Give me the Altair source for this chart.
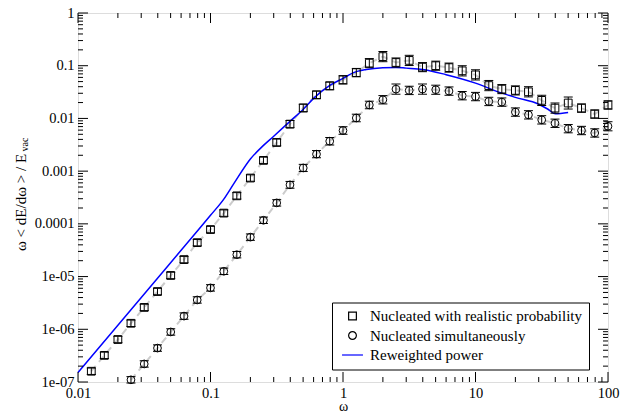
import altair as alt
import pandas as pd

# ---------------- data ----------------
omega = [0.0126, 0.0158, 0.02, 0.0251, 0.0316, 0.0398, 0.0501, 0.0631, 0.0794, 0.1,
         0.126, 0.158, 0.2, 0.251, 0.316, 0.398, 0.501, 0.631, 0.794, 1.0,
         1.26, 1.58, 2.0, 2.51, 3.16, 3.98, 5.01, 6.31, 7.94, 10.0,
         12.6, 15.8, 20.0, 25.1, 31.6, 39.8, 50.1, 63.1, 79.4, 100.0]

real_y = [1.6e-7, 3.2e-7, 6.4e-7, 1.3e-6, 2.6e-6, 5.2e-6, 1.05e-5, 2.1e-5, 4.4e-5, 7.8e-5,
          1.6e-4, 3.4e-4, 7.4e-4, 1.6e-3, 3.5e-3, 7.8e-3, 0.0158, 0.028, 0.0415, 0.054,
          0.074, 0.112, 0.149, 0.115, 0.126, 0.094, 0.10, 0.092, 0.08, 0.067,
          0.042, 0.036, 0.034, 0.032, 0.022, 0.0157, 0.0196, 0.0157, 0.0121, 0.018]
real_err = [0.15, 0.15, 0.15, 0.15, 0.15, 0.15, 0.15, 0.15, 0.15, 0.15,
            0.15, 0.15, 0.15, 0.15, 0.16, 0.17, 0.18, 0.18, 0.18, 0.20,
            0.20, 0.22, 0.25, 0.22, 0.25, 0.22, 0.22, 0.22, 0.25, 0.25,
            0.25, 0.22, 0.22, 0.25, 0.25, 0.25, 0.30, 0.20, 0.20, 0.20]

sim_omega = [0.0251, 0.0316, 0.0398, 0.0501, 0.0631, 0.0794, 0.1,
             0.126, 0.158, 0.2, 0.251, 0.316, 0.398, 0.501, 0.631, 0.794, 1.0,
             1.26, 1.58, 2.0, 2.51, 3.16, 3.98, 5.01, 6.31, 7.94, 10.0,
             12.6, 15.8, 20.0, 25.1, 31.6, 39.8, 50.1, 63.1, 79.4, 100.0]
sim_y = [1.1e-7, 2.2e-7, 4.4e-7, 8.9e-7, 1.78e-6, 3.6e-6, 6.1e-6,
         1.26e-5, 2.6e-5, 5.6e-5, 1.17e-4, 2.5e-4, 5.5e-4, 1.15e-3, 2.1e-3, 3.7e-3, 5.9e-3,
         0.0102, 0.018, 0.0226, 0.036, 0.034, 0.036, 0.035, 0.033, 0.027, 0.026,
         0.021, 0.0204, 0.0132, 0.0117, 0.0094, 0.0081, 0.0064, 0.0059, 0.0053, 0.0071]
sim_err = [0.15, 0.15, 0.15, 0.15, 0.15, 0.15, 0.15,
           0.15, 0.15, 0.15, 0.15, 0.15, 0.16, 0.17, 0.17, 0.18, 0.18,
           0.18, 0.18, 0.20, 0.25, 0.20, 0.25, 0.22, 0.20, 0.20, 0.20,
           0.20, 0.20, 0.20, 0.20, 0.20, 0.20, 0.20, 0.20, 0.20, 0.22]

rew_omega = [0.01, 0.02, 0.05, 0.1, 0.126, 0.15, 0.2, 0.25, 0.3, 0.4, 0.5, 0.6, 0.8,
             1.0, 1.2, 1.5, 2.0, 2.5, 3.0, 4.0, 6.0, 10.0, 15.0, 20.0, 30.0, 35.0, 40.0, 50.0]
rew_y = [1.51e-7, 1.19e-6, 1.83e-5, 1.45e-4, 2.95e-4, 5.8e-4, 1.7e-3, 3.05e-3, 4.6e-3, 8.9e-3,
         0.0148, 0.024, 0.0427, 0.0575, 0.074, 0.085, 0.0916, 0.0927, 0.090, 0.085,
         0.0676, 0.0468, 0.0316, 0.0251, 0.0186, 0.0151, 0.0123, 0.013]

series_names = ["Nucleated with realistic probability", "Nucleated simultaneously", "Reweighted power"]

x_major = [0.01, 0.1, 1, 10, 100]
y_major = [1e-7, 1e-6, 1e-5, 1e-4, 1e-3, 1e-2, 1e-1, 1]
mantissas = [2, 3, 4, 5, 6, 7, 8, 9]
x_minor = [m * d for d in x_major[:-1] for m in mantissas]
y_minor = [m * d for d in y_major[:-1] for m in mantissas]
y_label_map = {1e-7: "1e-07", 1e-6: "1e-06", 1e-5: "1e-05", 1e-4: "0.0001",
               1e-3: "0.001", 1e-2: "0.01", 1e-1: "0.1", 1: "1"}

# ---------------- tables ----------------
def make_df(xs, ys, es, name):
    return pd.DataFrame({
        "omega": xs, "value": ys,
        "lo": [y / (1 + e) for y, e in zip(ys, es)],
        "hi": [y * (1 + e) for y, e in zip(ys, es)],
        "series": name,
    })

pts = pd.concat([make_df(omega, real_y, real_err, series_names[0]),
                 make_df(sim_omega, sim_y, sim_err, series_names[1])], ignore_index=True)
rew = pd.DataFrame({"omega": rew_omega, "value": rew_y})

W, H = 530, 369
FONT = "Liberation Serif"

xs = alt.Scale(type="log", domain=[0.01, 100], nice=False)
ys = alt.Scale(type="log", domain=[1e-7, 1], nice=False)

y_expr = " : ".join([f"abs(datum.value - {v}) < {v * 1e-3} ? '{s}'" for v, s in y_label_map.items()]) + " : ''"

x_axis = alt.Axis(values=x_major, ticks=False, domain=False, grid=False,
                  labelExpr="format(datum.value, '~g')", labelFont=FONT, labelFontSize=14.5,
                  labelColor="black", labelPadding=4, labelFlush=False, labelOverlap=False,
                  title="ω", titleFont=FONT, titleFontSize=14, titleFontWeight="normal",
                  titleColor="black", titleY=28, titleBaseline="alphabetic")
y_axis = alt.Axis(values=y_major, ticks=False, domain=False, grid=False,
                  labelExpr=y_expr, labelFont=FONT, labelFontSize=14.5,
                  labelColor="black", labelPadding=4, labelFlush=False, labelOverlap=False,
                  title="ω < dE/dω > / E", titleFont=FONT, titleFontSize=15,
                  titleFontWeight="normal", titleColor="black", titleX=-58, titleY=189,
                  titleBaseline="middle")

X = lambda f: alt.X(f, scale=xs, axis=x_axis)
Y = lambda f: alt.Y(f, scale=ys, axis=y_axis)

gray = alt.Chart(pts).mark_line(color="#cccccc", strokeDash=[7, 5], strokeWidth=2).encode(
    x=X("omega:Q"), y=Y("value:Q"), detail="series:N")

blue = alt.Chart(rew).mark_line(color="#0000ff", strokeWidth=1.5, interpolate="monotone").encode(
    x=X("omega:Q"), y=Y("value:Q"))

err = alt.Chart(pts).mark_rule(color="black", strokeWidth=1).encode(
    x=X("omega:Q"), y=Y("lo:Q"), y2="hi:Q")
cap_lo = alt.Chart(pts).mark_tick(color="black", orient="horizontal", size=9, thickness=1, opacity=1).encode(
    x=X("omega:Q"), y=Y("lo:Q"))
cap_hi = alt.Chart(pts).mark_tick(color="black", orient="horizontal", size=9, thickness=1, opacity=1).encode(
    x=X("omega:Q"), y=Y("hi:Q"))

legend = alt.Legend(title=None, orient="none", legendX=254, legendY=289.5, padding=6,
                    strokeColor="black", fillColor="white", symbolOffset=7, labelOffset=10,
                    rowPadding=3.5, labelFont=FONT, labelFontSize=15, labelColor="black",
                    symbolStrokeWidth=1.2, symbolSize=60, labelLimit=0, cornerRadius=0)

points = alt.Chart(pts).mark_point(filled=False, size=60, strokeWidth=1, opacity=1).encode(
    x=X("omega:Q"), y=Y("value:Q"),
    shape=alt.Shape("series:N", scale=alt.Scale(domain=series_names,
                                                range=["square", "circle", "M-2.7,0H2.7"]),
                    legend=legend),
    color=alt.Color("series:N", scale=alt.Scale(domain=series_names,
                                                range=["black", "black", "#0000ff"]),
                    legend=legend),
)

# tick marks (inward, on all four sides)
xmaj = pd.DataFrame({"omega": x_major})
xmin = pd.DataFrame({"omega": x_minor})
ymaj = pd.DataFrame({"value": y_major})
ymin = pd.DataFrame({"value": y_minor})

def xticks(df, length):
    b = alt.Chart(df).mark_rule(color="black", strokeWidth=1).encode(
        x=X("omega:Q"), y=alt.value(H), y2=alt.value(H - length))
    t = alt.Chart(df).mark_rule(color="black", strokeWidth=1).encode(
        x=X("omega:Q"), y=alt.value(0), y2=alt.value(length))
    return [b, t]

def yticks(df, length):
    l = alt.Chart(df).mark_rule(color="black", strokeWidth=1).encode(
        y=Y("value:Q"), x=alt.value(0), x2=alt.value(length))
    r = alt.Chart(df).mark_rule(color="black", strokeWidth=1).encode(
        y=Y("value:Q"), x=alt.value(W), x2=alt.value(W - length))
    return [l, r]

ticks = xticks(xmaj, 10) + xticks(xmin, 5) + yticks(ymaj, 10) + yticks(ymin, 5)

sub = alt.Chart(pd.DataFrame({"t": ["vac"]})).mark_text(
    angle=270, fontSize=10, font=FONT, align="center", baseline="middle", color="black").encode(
    text="t:N", x=alt.value(-53), y=alt.value(131.5))

chart = alt.layer(gray, blue, err, cap_lo, cap_hi, points, *ticks, sub).properties(
    width=W, height=H,
    autosize=alt.AutoSizeParams(type="none"),
    padding={"left": 78, "top": 13, "right": 21, "bottom": 31},
).configure_view(stroke="black", strokeWidth=1).configure(background="white")

chart.save("out.html", embed_options={"renderer": "svg", "actions": False})
